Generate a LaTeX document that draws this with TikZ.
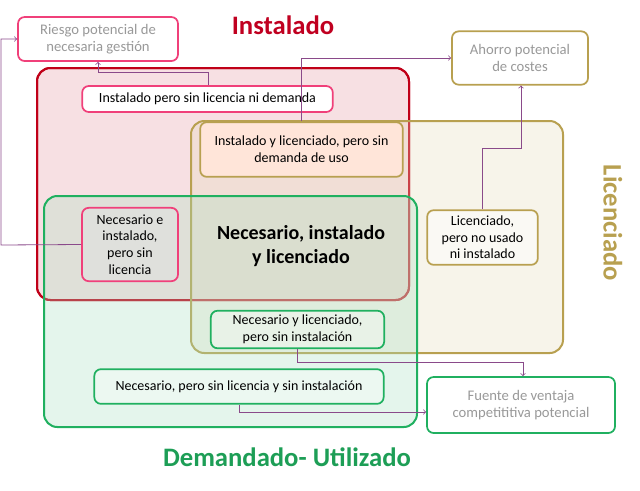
\documentclass[tikz,border=0pt]{standalone}
\usepackage{fontspec}
\setmainfont{Carlito}
\begin{document}
\begin{tikzpicture}[x=0.75pt,y=-0.75pt,
  big/.style={rounded corners=10pt,line width=1.5pt,fill opacity=0.3,text opacity=1},
  bx/.style={rounded corners=5pt,line width=1.3pt,align=center,font=\fontsize{10.5}{12.5}\selectfont},
  arr/.style={draw=purple!60!black!70,line width=0.6pt,->}]
\definecolor{cred}{HTML}{C00018}
\definecolor{cpink}{HTML}{F0407A}
\definecolor{cgold}{HTML}{B8A050}
\definecolor{cgreen}{HTML}{20B060}
\definecolor{ctxt}{HTML}{999999}
\definecolor{conn}{HTML}{8A4A8A}
\useasboundingbox (0,0) rectangle (640,490);
\filldraw[big,draw=cred,fill=cred!40] (37,68) rectangle (409,300);
\draw[rounded corners=10pt,line width=1.5pt,draw=cred] (37,68) rectangle (409,300);
\filldraw[big,draw=cgold,fill=cgold!40] (191,121) rectangle (563,353);
\filldraw[big,draw=cgreen,fill=cgreen!40] (44,196) rectangle (417,427);
\node[bx,draw=cpink,fill=white,text=ctxt,minimum width=120pt,minimum height=33pt,font=\fontsize{11}{13}\selectfont] (ries) at (98,39) {Riesgo potencial de\\necesaria gestión};
\node[bx,draw=cgold,fill=white,text=ctxt,minimum width=102pt,minimum height=40pt,font=\fontsize{11}{13}\selectfont] (ahor) at (520,58) {Ahorro potencial\\de costes};
\node[bx,draw=cgreen,fill=white,text=ctxt,minimum width=141pt,minimum height=42pt,font=\fontsize{11}{13}\selectfont] (fuen) at (521,405) {Fuente de ventaja\\competititiva potencial};
\node[bx,draw=cpink,fill=white,minimum width=188pt,minimum height=19.5pt] (ipsl) at (207.5,99) {Instalado pero sin licencia ni demanda};
\node[bx,draw=cgold,fill=red!35!orange!15,minimum width=152pt,minimum height=41pt] (ilps) at (301.5,149.5) {Instalado y licenciado, pero sin\\demanda de uso};
\node[bx,draw=cpink,fill=white!88!black,fill opacity=0.6,text opacity=1,minimum width=72pt,minimum height=55pt] (nei) at (130,244.5) {Necesario e\\instalado,\\pero sin\\licencia};
\node[font=\bfseries\fontsize{15}{18}\selectfont,align=center] (cen) at (301,246) {Necesario, instalado\\y licenciado};
\node[bx,draw=cgold,fill=white,fill opacity=0.5,text opacity=1,minimum width=83pt,minimum height=41pt] (lic) at (482.5,237.5) {Licenciado,\\pero no usado\\ni instalado};
\node[bx,draw=cgreen,fill=white,fill opacity=0.3,text opacity=1,minimum width=130pt,minimum height=26pt] (nyl) at (297.5,329.5) {Necesario y licenciado,\\pero sin instalación};
\node[bx,draw=cgreen,fill=white,fill opacity=0.3,text opacity=1,minimum width=217pt,minimum height=26pt] (nps) at (239,386.5) {Necesario, pero sin licencia y sin instalación};
\node[font=\bfseries\fontsize{20}{24}\selectfont,text=cred!80!purple] (t1) at (283,25) {Instalado};
\node[font=\bfseries\fontsize{20}{24}\selectfont,text=cgold,rotate=-90] (t2) at (613,223) {Licenciado};
\node[font=\bfseries\fontsize{20}{24}\selectfont,text=cgreen!90!black] (t3) at (287,457) {Demandado- Utilizado};
\draw[arr,draw=conn] (ipsl.north -| 208,0) |- (98,72) -- (ries.south -| 98,0);
\draw[arr,draw=conn] (nei.west) -- (1,245) |- (ries.west);
\draw[arr,draw=conn] (ilps.north) |- (ahor.west);
\draw[arr,draw=conn] (lic.north) |- (521,148) -- (ahor.south -| 521,0);
\draw[arr,draw=conn] (nyl.south) |- (523,362) -- (fuen.north -| 523,0);
\draw[arr,draw=conn] (nps.south) |- (fuen.west |- 0,412);
\end{tikzpicture}
\end{document}
